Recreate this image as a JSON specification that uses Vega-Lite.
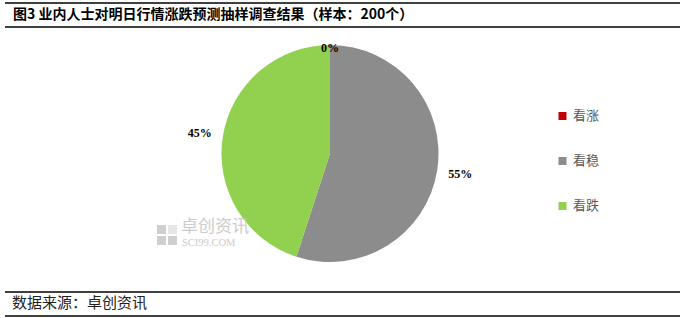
{
  "$schema": "https://vega.github.io/schema/vega-lite/v6.json",
  "width": 680,
  "height": 318,
  "autosize": {"type": "fit", "contains": "padding"},
  "padding": 0,
  "background": "white",
  "config": {"view": {"stroke": null}},
  "data": {"values": [
    {"category": "看涨", "value": 0, "order": 1},
    {"category": "看稳", "value": 0.55, "order": 2},
    {"category": "看跌", "value": 0.45, "order": 3}
  ]},
  "layer": [
    {
      "data": {"values": [{"t": "图3  业内人士对明日行情涨跌预测抽样调查结果（样本：200个）"}]},
      "mark": {"type": "text", "x": 13, "y": 15, "align": "left", "baseline": "middle", "font": "Noto Sans CJK SC", "fontWeight": "bold", "fontSize": 14, "color": "#000000"},
      "encoding": {"text": {"field": "t", "type": "nominal"}}
    },
    {
      "data": {"values": [{"t": "数据来源：卓创资讯"}]},
      "mark": {"type": "text", "x": 12, "y": 303, "align": "left", "baseline": "middle", "font": "Noto Sans CJK SC", "fontSize": 15, "color": "#222222"},
      "encoding": {"text": {"field": "t", "type": "nominal"}}
    },
    {
      "data": {"values": [{"t": "top"}]},
      "mark": {"type": "rule", "color": "#000000", "strokeWidth": 1.5},
      "encoding": {"x": {"value": 5}, "x2": {"value": 680}, "y": {"value": 3}}
    },
    {
      "data": {"values": [{"t": "title"}]},
      "mark": {"type": "rule", "color": "#000000", "strokeWidth": 1.5},
      "encoding": {"x": {"value": 5}, "x2": {"value": 680}, "y": {"value": 27}}
    },
    {
      "data": {"values": [{"t": "source-top"}]},
      "mark": {"type": "rule", "color": "#000000", "strokeWidth": 1.5},
      "encoding": {"x": {"value": 5}, "x2": {"value": 680}, "y": {"value": 292}}
    },
    {
      "data": {"values": [{"t": "source-bottom"}]},
      "mark": {"type": "rule", "color": "#000000", "strokeWidth": 1.5},
      "encoding": {"x": {"value": 5}, "x2": {"value": 680}, "y": {"value": 316}}
    },
    {
      "mark": {"type": "arc", "x": 330, "y": 153.5, "outerRadius": 108.5},
      "encoding": {
        "theta": {"field": "value", "type": "quantitative", "stack": true},
        "order": {"field": "order", "type": "quantitative"},
        "color": {
          "field": "category", "type": "nominal",
          "scale": {"domain": ["看涨", "看稳", "看跌"], "range": ["#C00000", "#8C8C8C", "#92D050"]},
          "legend": {
            "title": null, "orient": "none", "legendX": 556, "legendY": 109.5,
            "symbolType": "square", "symbolSize": 64, "symbolStrokeWidth": 0,
            "labelFont": "Noto Sans CJK SC", "labelFontSize": 13, "labelColor": "#595959",
            "labelOffset": 4, "rowPadding": 31
          }
        }
      }
    },
    {
      "data": {"values": [{"t": "卓创资讯"}]},
      "mark": {"type": "text", "x": 181, "y": 227, "align": "left", "baseline": "middle", "font": "Noto Sans CJK SC", "fontSize": 17, "color": "#c4c4c4", "opacity": 0.85},
      "encoding": {"text": {"field": "t", "type": "nominal"}}
    },
    {
      "data": {"values": [{"t": "SCI99.COM"}]},
      "mark": {"type": "text", "x": 182, "y": 243, "align": "left", "baseline": "middle", "font": "Liberation Serif", "fontSize": 10.5, "color": "#c4c4c4", "opacity": 0.85},
      "encoding": {"text": {"field": "t", "type": "nominal"}}
    },
    {
      "data": {"values": [{"t": "icon-tl"}]},
      "mark": {"type": "rect", "color": "#cfcfcf"},
      "encoding": {"x": {"value": 157}, "x2": {"value": 166}, "y": {"value": 225}, "y2": {"value": 234}}
    },
    {
      "data": {"values": [{"t": "icon-tr"}]},
      "mark": {"type": "rect", "color": "#e6e6e6"},
      "encoding": {"x": {"value": 168}, "x2": {"value": 177}, "y": {"value": 225}, "y2": {"value": 234}}
    },
    {
      "data": {"values": [{"t": "icon-bl"}]},
      "mark": {"type": "rect", "color": "#cfcfcf"},
      "encoding": {"x": {"value": 157}, "x2": {"value": 166}, "y": {"value": 236}, "y2": {"value": 245}}
    },
    {
      "data": {"values": [{"t": "icon-br"}]},
      "mark": {"type": "rect", "color": "#cfcfcf"},
      "encoding": {"x": {"value": 168}, "x2": {"value": 177}, "y": {"value": 236}, "y2": {"value": 245}}
    },
    {
      "transform": [{"filter": "datum.value > 0"}],
      "mark": {"type": "text", "x": 330, "y": 153.5, "radius": 132, "font": "Liberation Serif", "fontWeight": "bold", "fontSize": 12, "color": "#000000", "baseline": "middle"},
      "encoding": {
        "theta": {"field": "value", "type": "quantitative", "stack": true},
        "order": {"field": "order", "type": "quantitative"},
        "text": {"field": "value", "type": "quantitative", "format": ".0%"}
      }
    },
    {
      "transform": [{"filter": "datum.value == 0"}],
      "mark": {"type": "text", "x": 330, "y": 153.5, "radius": 106, "font": "Liberation Serif", "fontWeight": "bold", "fontSize": 12, "color": "#000000", "baseline": "middle"},
      "encoding": {
        "theta": {"field": "value", "type": "quantitative", "stack": true},
        "text": {"field": "value", "type": "quantitative", "format": ".0%"}
      }
    }
  ]
}
